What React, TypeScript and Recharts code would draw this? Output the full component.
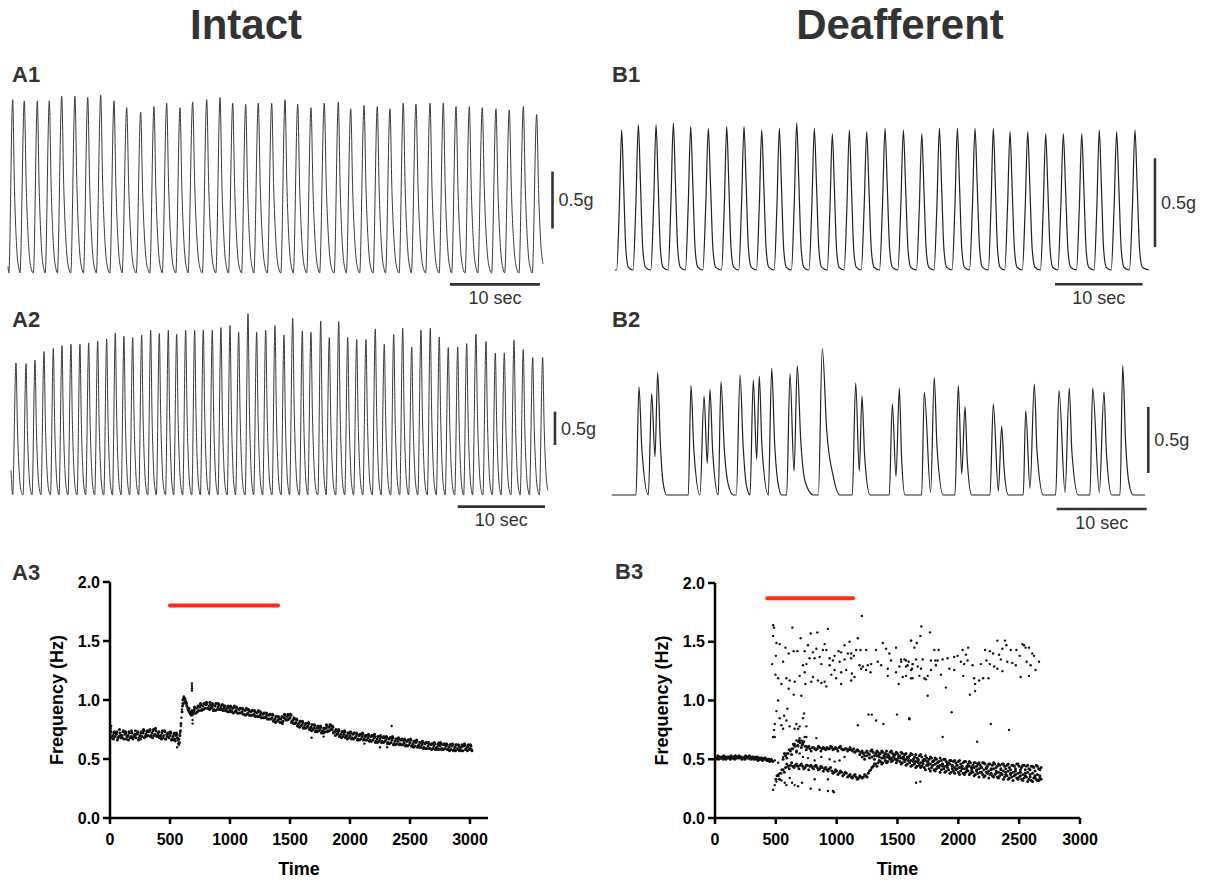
import { LineChart, Line, XAxis, YAxis, ReferenceLine, ScatterChart, Scatter } from 'recharts';

const FONT = '"Liberation Sans", Arial, Helvetica, sans-serif';
const INK = '#333333';
const RED = '#ff2e17';

// ---- force traces: time in s from trace start, force in g above the trough ----
const A1_PEAK_T = [0.52, 1.81, 3.26, 4.59, 5.97, 7.44, 8.86, 10.3, 11.78, 13.19, 14.74, 16.22, 17.63, 19.11, 20.52, 22.08, 23.56, 24.97, 26.41, 27.81, 29.3, 30.78, 32.19, 33.67, 35.14, 36.7, 38.08, 39.56, 41.03, 42.44, 43.92, 45.33, 46.89, 48.37, 49.78, 51.26, 52.7, 54.22, 55.7, 57.26, 58.74];
const A1_PEAK_F = [1.52, 1.51, 1.51, 1.51, 1.55, 1.55, 1.54, 1.56, 1.51, 1.45, 1.41, 1.46, 1.49, 1.45, 1.5, 1.52, 1.54, 1.49, 1.48, 1.49, 1.49, 1.52, 1.48, 1.45, 1.49, 1.5, 1.44, 1.47, 1.46, 1.44, 1.49, 1.48, 1.49, 1.49, 1.46, 1.46, 1.45, 1.44, 1.43, 1.46, 1.39];

const A2_PEAK_T = [0.57, 1.72, 2.75, 3.78, 4.85, 5.84, 6.87, 7.9, 8.9, 9.93, 10.96, 11.95, 12.94, 13.94, 14.97, 16.0, 16.99, 18.02, 18.98, 20.01, 21.04, 22.03, 23.06, 24.05, 25.09, 26.08, 27.15, 28.14, 29.18, 30.24, 31.27, 32.27, 33.37, 34.36, 35.48, 36.46, 37.54, 38.57, 39.6, 40.66, 41.73, 42.76, 43.84, 44.87, 45.9, 46.96, 48.03, 49.06, 50.09, 51.17, 52.2, 53.26, 54.41, 55.48, 56.51, 57.62, 58.68, 59.76, 60.9];
const A2_PEAK_F = [1.98, 1.97, 2.02, 2.15, 2.2, 2.24, 2.26, 2.26, 2.28, 2.31, 2.34, 2.43, 2.38, 2.36, 2.4, 2.47, 2.42, 2.47, 2.41, 2.47, 2.47, 2.47, 2.47, 2.51, 2.54, 2.44, 2.72, 2.44, 2.47, 2.54, 2.4, 2.65, 2.46, 2.44, 2.61, 2.36, 2.6, 2.36, 2.33, 2.33, 2.49, 2.26, 2.41, 2.5, 2.22, 2.47, 2.5, 2.37, 2.21, 2.22, 2.27, 2.41, 2.3, 2.13, 2.13, 2.32, 2.18, 2.06, 2.06];

const B1_PEAK_T = [0.76, 2.66, 4.68, 6.65, 8.63, 10.64, 12.74, 14.71, 16.73, 18.74, 20.72, 22.73, 24.78, 26.72, 28.7, 30.79, 32.88, 34.98, 36.99, 39.04, 41.05, 43.14, 45.04, 47.06, 49.11, 51.12, 53.22, 55.22, 57.2, 59.29];
const B1_PEAK_F = [0.79, 0.82, 0.82, 0.83, 0.81, 0.8, 0.81, 0.81, 0.79, 0.8, 0.83, 0.8, 0.77, 0.79, 0.78, 0.8, 0.79, 0.77, 0.8, 0.8, 0.8, 0.8, 0.78, 0.78, 0.77, 0.77, 0.77, 0.79, 0.78, 0.79];

// B2 is irregular, so its turning points are listed one by one: [s, g]
const B2_TRACE = [
  [0, 0], [2.7, 0], [3.03, 0.82], [3.35, 0.35], [4.07, 0], [4.44, 0.77], [4.81, 0.29], [5.11, 0.93], [5.4, 0.4], [5.7, 0.1], [6.11, 0],
  [8.51, 0], [8.81, 0.83], [9.12, 0.35], [9.81, 0], [10.26, 0.75], [10.62, 0.24], [10.92, 0.8], [11.22, 0.33], [11.84, 0],
  [12.14, 0.86], [12.5, 0.36], [12.95, 0.08], [13.51, 0], [13.85, 0],
  [14.26, 0.91], [14.6, 0.38], [14.95, 0.08], [15.37, 0], [15.73, 0.87], [16.11, 0.27], [16.4, 0.9], [16.7, 0.36], [17.4, 0],
  [17.78, 0.96], [18.1, 0.4], [18.5, 0.08], [18.89, 0], [19.44, 0],
  [19.81, 0.92], [20.26, 0.18], [20.62, 0.98], [21.0, 0.42], [21.5, 0.1], [22.4, 0], [22.96, 0],
  [23.4, 1.11], [23.89, 0.49], [24.62, 0.14], [25.37, 0],
  [26.73, 0], [27.11, 0.85], [27.51, 0.18], [27.81, 0.75], [28.1, 0.3], [28.7, 0],
  [30.84, 0], [31.18, 0.69], [31.59, 0.14], [31.96, 0.81], [32.2, 0.3], [32.59, 0],
  [34.44, 0], [34.73, 0.78], [35.44, 0.02], [35.84, 0.89], [36.15, 0.36], [36.84, 0],
  [38.14, 0], [38.51, 0.83], [38.89, 0.16], [39.26, 0.67], [39.5, 0.27], [40, 0],
  [42.03, 0], [42.4, 0.69], [42.96, 0.03], [43.33, 0.52], [43.6, 0.2], [44.07, 0],
  [45.73, 0], [46, 0.64], [46.48, 0.05], [46.96, 0.84], [47.25, 0.34], [47.96, 0],
  [49.33, 0], [49.7, 0.79], [50.37, 0.02], [50.84, 0.81], [51.13, 0.33], [51.84, 0],
  [53.14, 0], [53.44, 0.81], [54.18, 0.02], [54.7, 0.78], [54.97, 0.32], [55.56, 0],
  [56.48, 0], [56.78, 0.98], [57.1, 0.4], [57.5, 0.08], [57.96, 0], [59.26, 0],
];

// one contraction: [fraction of period, fraction of peak]
const INTACT_CYCLE = [[-0.33, 0], [0, 1], [0.15, 0.5], [0.35, 0.14], [0.55, 0.02]];
const DEAFF_CYCLE = [[-0.3, 0], [-0.14, 0.45], [0, 1], [0.12, 0.6], [0.25, 0.15], [0.4, 0.02]];

// ---- frequency plots ----
const X_TICKS = [0, 500, 1000, 1500, 2000, 2500, 3000];
const Y_TICKS = [0, 0.5, 1, 1.5, 2];

// A3: five rows of the dense band, 25 s apart, rows shifted by 4 s
const A3_ROW_A = [
  0.71, 0.7, 0.72, 0.69, 0.7, 0.71, 0.7, 0.69, 0.7, 0.71, 0.7, 0.72, 0.71, 0.73, 0.72, 0.71, 0.72, 0.7, 0.7, 0.71,
  0.7, 0.69, 0.7, 0.67, 0.9, 1.01, 0.93, 0.89, 0.91, 0.93, 0.94, 0.95, 0.96, 0.95, 0.94, 0.95, 0.94, 0.94, 0.93, 0.93,
  0.92, 0.93, 0.91, 0.92, 0.9, 0.91, 0.89, 0.9, 0.88, 0.89, 0.87, 0.88, 0.86, 0.87, 0.85, 0.84, 0.83, 0.84, 0.85, 0.86,
  0.85, 0.83, 0.81, 0.8, 0.79, 0.79, 0.78, 0.77, 0.76, 0.76, 0.75, 0.74, 0.76, 0.77, 0.75, 0.73, 0.72, 0.71, 0.71, 0.7,
  0.7, 0.71, 0.69, 0.7, 0.69, 0.69, 0.68, 0.69, 0.68, 0.67, 0.67, 0.68, 0.66, 0.67, 0.66, 0.65, 0.65, 0.66, 0.64, 0.65,
  0.64, 0.63, 0.64, 0.62, 0.62, 0.63, 0.61, 0.62, 0.61, 0.6, 0.61, 0.62, 0.61, 0.6, 0.61, 0.6, 0.59, 0.6, 0.61, 0.6,
  0.59,
];
const A3_ROW_D = [
  0.74, 0.67, 0.71, 0.75, 0.68, 0.73, 0.66, 0.74, 0.69, 0.72, 0.67, 0.75, 0.69, 0.74, 0.68, 0.76, 0.7, 0.67, 0.74, 0.69,
  0.73, 0.66, 0.72, 0.64, 0.95, 0.99, 0.91, 0.87, 0.94, 0.9, 0.97, 0.92, 0.98, 0.92, 0.97, 0.91, 0.97, 0.92, 0.95, 0.9,
  0.95, 0.89, 0.94, 0.89, 0.93, 0.87, 0.92, 0.87, 0.91, 0.86, 0.9, 0.85, 0.89, 0.84, 0.88, 0.81, 0.86, 0.81, 0.88, 0.83,
  0.88, 0.8, 0.84, 0.77, 0.82, 0.76, 0.81, 0.74, 0.79, 0.73, 0.78, 0.72, 0.79, 0.74, 0.78, 0.7, 0.75, 0.68, 0.74, 0.67,
  0.73, 0.67, 0.72, 0.66, 0.72, 0.66, 0.71, 0.65, 0.71, 0.64, 0.7, 0.64, 0.69, 0.63, 0.69, 0.62, 0.68, 0.62, 0.67, 0.61,
  0.67, 0.6, 0.66, 0.6, 0.65, 0.59, 0.64, 0.58, 0.64, 0.58, 0.64, 0.58, 0.63, 0.57, 0.63, 0.57, 0.62, 0.57, 0.63, 0.57,
  0.62,
];
const A3_ROW_B = [
  0.73, 0.72, 0.73, 0.72, 0.73, 0.72, 0.73, 0.72, 0.71, 0.73, 0.72, 0.74, 0.73, 0.75, 0.74, 0.74, 0.73, 0.72, 0.73, 0.72,
  0.72, 0.71, 0.71, 0.7, 1.0, 0.98, 0.93, 0.91, 0.93, 0.95, 0.96, 0.97, 0.97, 0.98, 0.96, 0.97, 0.96, 0.96, 0.95, 0.95,
  0.94, 0.94, 0.93, 0.93, 0.92, 0.92, 0.91, 0.91, 0.9, 0.9, 0.89, 0.89, 0.88, 0.88, 0.87, 0.86, 0.85, 0.86, 0.87, 0.88,
  0.87, 0.85, 0.83, 0.82, 0.81, 0.8, 0.8, 0.79, 0.78, 0.78, 0.77, 0.76, 0.78, 0.79, 0.77, 0.75, 0.74, 0.73, 0.73, 0.72,
  0.72, 0.72, 0.71, 0.71, 0.71, 0.7, 0.7, 0.7, 0.69, 0.69, 0.69, 0.69, 0.68, 0.68, 0.68, 0.67, 0.67, 0.67, 0.66, 0.66,
  0.66, 0.65, 0.65, 0.64, 0.64, 0.64, 0.63, 0.63, 0.63, 0.62, 0.63, 0.63, 0.62, 0.62, 0.62, 0.62, 0.61, 0.62, 0.62, 0.61,
  0.61,
];
const A3_ROW_E = [
  0.68, 0.73, 0.66, 0.7, 0.74, 0.67, 0.72, 0.68, 0.74, 0.66, 0.73, 0.68, 0.74, 0.69, 0.75, 0.7, 0.68, 0.74, 0.67, 0.72,
  0.66, 0.72, 0.68, 0.74, 0.97, 0.97, 0.9, 0.9, 0.89, 0.95, 0.91, 0.97, 0.93, 0.96, 0.91, 0.97, 0.92, 0.96, 0.91, 0.94,
  0.9, 0.95, 0.89, 0.93, 0.88, 0.93, 0.87, 0.91, 0.86, 0.91, 0.85, 0.89, 0.84, 0.88, 0.82, 0.86, 0.84, 0.8, 0.84, 0.87,
  0.81, 0.84, 0.78, 0.82, 0.76, 0.8, 0.75, 0.79, 0.73, 0.77, 0.72, 0.76, 0.73, 0.79, 0.72, 0.74, 0.69, 0.73, 0.68, 0.72,
  0.67, 0.72, 0.66, 0.71, 0.66, 0.7, 0.65, 0.7, 0.64, 0.69, 0.64, 0.68, 0.63, 0.68, 0.62, 0.67, 0.62, 0.66, 0.61, 0.66,
  0.61, 0.65, 0.6, 0.64, 0.59, 0.64, 0.59, 0.63, 0.58, 0.63, 0.58, 0.62, 0.58, 0.62, 0.57, 0.62, 0.57, 0.61, 0.58, 0.62,
  0.58,
];
const A3_ROW_C = [
  0.68, 0.69, 0.68, 0.68, 0.67, 0.69, 0.68, 0.67, 0.68, 0.68, 0.69, 0.69, 0.7, 0.7, 0.7, 0.69, 0.69, 0.68, 0.67, 0.68,
  0.67, 0.67, 0.66, 0.8, 1.02, 0.95, 0.89, 0.88, 0.89, 0.91, 0.92, 0.93, 0.93, 0.93, 0.92, 0.92, 0.92, 0.91, 0.91, 0.9,
  0.9, 0.9, 0.89, 0.89, 0.88, 0.88, 0.87, 0.87, 0.86, 0.86, 0.85, 0.85, 0.84, 0.84, 0.83, 0.82, 0.81, 0.82, 0.83, 0.84,
  0.82, 0.8, 0.79, 0.78, 0.77, 0.77, 0.76, 0.75, 0.74, 0.74, 0.73, 0.73, 0.74, 0.75, 0.73, 0.71, 0.7, 0.69, 0.69, 0.68,
  0.68, 0.68, 0.67, 0.67, 0.67, 0.66, 0.66, 0.66, 0.65, 0.65, 0.65, 0.65, 0.64, 0.64, 0.63, 0.63, 0.63, 0.62, 0.62, 0.62,
  0.61, 0.61, 0.61, 0.6, 0.6, 0.59, 0.59, 0.59, 0.59, 0.58, 0.59, 0.59, 0.58, 0.58, 0.58, 0.58, 0.58, 0.57, 0.58, 0.58,
  0.57,
];
// A3: the jump at stimulation and stray points, [s, Hz]
const A3_EXTRA = [
  [585, 0.72], [590, 0.78], [595, 0.85], [600, 0.92], [605, 0.97], [610, 1.01], [615, 1.03], [620, 1.02], [630, 0.98], [640, 0.95],
  [650, 0.92], [660, 0.9], [670, 0.88], [680, 0.88], [690, 0.9], [700, 0.91], [683, 1.14], [683, 1.12], [683, 1.1], [683, 1.08],
  [688, 0.8], [688, 0.83], [575, 0.62], [568, 0.63], [560, 0.6], [2347, 0.78], [1780, 0.69], [2250, 0.6], [2310, 0.6], [1840, 0.78],
  [1680, 0.68], [2120, 0.63], [2740, 0.64], [1015, 0.91], [545, 0.65], [5, 0.76], [10, 0.78],
];

// B3: before stimulation, two rows 12 s apart
const B3_PRE_A = [0.52, 0.51, 0.53, 0.52, 0.51, 0.52, 0.53, 0.52, 0.51, 0.52, 0.52, 0.53, 0.51, 0.52, 0.53, 0.52, 0.51, 0.52, 0.52, 0.51, 0.52, 0.53, 0.52, 0.51, 0.52, 0.51, 0.52, 0.51, 0.5, 0.52, 0.51, 0.5, 0.51, 0.5, 0.51, 0.5, 0.49, 0.5, 0.49, 0.49];
const B3_PRE_B = [0.5, 0.51, 0.5, 0.51, 0.52, 0.5, 0.51, 0.5, 0.52, 0.51, 0.5, 0.51, 0.52, 0.5, 0.51, 0.52, 0.53, 0.51, 0.5, 0.51, 0.5, 0.52, 0.51, 0.53, 0.5, 0.52, 0.5, 0.52, 0.51, 0.49, 0.5, 0.51, 0.49, 0.5, 0.51, 0.49, 0.5, 0.48, 0.5, 0.48];
// B3: the two slow bands after stimulation (20 s apart) and the spread between them
const B3_BAND_UP = [
  0.5, 0.53, 0.55, 0.57, 0.59, 0.61, 0.62, 0.64, 0.63, 0.61, 0.6, 0.59, 0.6, 0.59, 0.59, 0.6, 0.59, 0.59, 0.6, 0.59,
  0.6, 0.59, 0.59, 0.6, 0.59, 0.58, 0.59, 0.58, 0.58, 0.59, 0.57, 0.57, 0.56, 0.55, 0.56, 0.55, 0.57, 0.56, 0.55, 0.56,
  0.55, 0.56, 0.55, 0.54, 0.56, 0.55, 0.54, 0.55, 0.53, 0.55, 0.54, 0.52, 0.53, 0.54, 0.52, 0.51, 0.53, 0.52, 0.5, 0.51,
  0.5, 0.51, 0.49, 0.5, 0.48, 0.49, 0.5, 0.48, 0.47, 0.49, 0.48, 0.47, 0.48, 0.46, 0.47, 0.48, 0.46, 0.47, 0.45, 0.47,
  0.46, 0.45, 0.47, 0.46, 0.44, 0.46, 0.45, 0.46, 0.44, 0.45, 0.46, 0.44, 0.45, 0.43, 0.45, 0.44, 0.46, 0.44, 0.43, 0.45,
  0.44, 0.42, 0.44, 0.43, 0.45, 0.42, 0.43,
];
const B3_BAND_UP2 = [
  0.55, 0.51, 0.58, 0.54, 0.62, 0.57, 0.66, 0.6, 0.65, 0.58, 0.61, 0.57, 0.6, 0.58, 0.61, 0.57, 0.6, 0.58, 0.59, 0.61,
  0.58, 0.6, 0.57, 0.61, 0.58, 0.59, 0.57, 0.6, 0.57, 0.56, 0.58, 0.54, 0.57, 0.53, 0.57, 0.54, 0.58, 0.53, 0.57, 0.54,
  0.57, 0.53, 0.57, 0.52, 0.57, 0.53, 0.56, 0.52, 0.56, 0.52, 0.55, 0.51, 0.55, 0.5, 0.54, 0.5, 0.54, 0.49, 0.53, 0.48,
  0.52, 0.48, 0.51, 0.47, 0.51, 0.46, 0.5, 0.46, 0.49, 0.45, 0.49, 0.45, 0.49, 0.44, 0.48, 0.44, 0.48, 0.43, 0.47, 0.44,
  0.47, 0.43, 0.47, 0.43, 0.46, 0.42, 0.47, 0.43, 0.46, 0.42, 0.46, 0.42, 0.46, 0.41, 0.45, 0.42, 0.46, 0.41, 0.45, 0.41,
  0.45, 0.41, 0.44, 0.4, 0.44, 0.41,
];
const B3_BAND_LOW = [
  0.33, 0.36, 0.38, 0.41, 0.43, 0.44, 0.45, 0.44, 0.45, 0.44, 0.45, 0.44, 0.43, 0.45, 0.44, 0.43, 0.44, 0.43, 0.42, 0.43,
  0.42, 0.41, 0.42, 0.4, 0.39, 0.4, 0.38, 0.39, 0.37, 0.38, 0.36, 0.35, 0.36, 0.35, 0.34, 0.35, 0.35, 0.36, 0.38, 0.41,
  0.44, 0.46, 0.47, 0.48, 0.47, 0.49, 0.48, 0.5, 0.49, 0.5, 0.49, 0.48, 0.47, 0.48, 0.46, 0.47, 0.45, 0.46, 0.44, 0.45,
  0.44, 0.43, 0.45, 0.42, 0.43, 0.41, 0.42, 0.43, 0.41, 0.42, 0.4, 0.41, 0.39, 0.4, 0.41, 0.39, 0.4, 0.38, 0.39, 0.4,
  0.38, 0.39, 0.37, 0.38, 0.39, 0.37, 0.36, 0.38, 0.37, 0.36, 0.37, 0.35, 0.36, 0.37, 0.35, 0.36, 0.34, 0.35, 0.36, 0.34,
  0.35, 0.33, 0.34, 0.35, 0.33, 0.32, 0.34, 0.33, 0.32, 0.33,
];
const B3_BAND_LOW2 = [
  0.36, 0.33, 0.41, 0.39, 0.46, 0.42, 0.47, 0.43, 0.46, 0.42, 0.46, 0.42, 0.45, 0.41, 0.45, 0.42, 0.45, 0.41, 0.44, 0.4,
  0.43, 0.4, 0.43, 0.38, 0.41, 0.37, 0.4, 0.36, 0.39, 0.35, 0.37, 0.34, 0.37, 0.33, 0.36, 0.34, 0.37, 0.35, 0.4, 0.43,
  0.46, 0.44, 0.49, 0.46, 0.51, 0.47, 0.51, 0.48, 0.52, 0.47, 0.51, 0.46, 0.5, 0.45, 0.49, 0.44, 0.48, 0.43, 0.47, 0.43,
  0.46, 0.41, 0.45, 0.4, 0.45, 0.4, 0.44, 0.39, 0.44, 0.39, 0.43, 0.38, 0.42, 0.38, 0.42, 0.37, 0.42, 0.37, 0.41, 0.37,
  0.4, 0.36, 0.4, 0.35, 0.39, 0.35, 0.39, 0.34, 0.38, 0.35, 0.38, 0.34, 0.38, 0.33, 0.37, 0.33, 0.37, 0.32, 0.37, 0.33,
  0.36, 0.32, 0.36, 0.31, 0.35, 0.31, 0.35, 0.32, 0.34,
];
const B3_BAND_MID = [
  0.52, 0.5, 0.53, 0.51, 0.52, 0.5, 0.53, 0.52, 0.51, 0.53, 0.52, 0.53, 0.51, 0.52, 0.5, 0.53, 0.51, 0.52, 0.5, 0.51,
  0.49, 0.5, 0.48, 0.49, 0.47, 0.48, 0.49, 0.47, 0.46, 0.48, 0.46, 0.47, 0.45, 0.46, 0.44, 0.45, 0.46, 0.44, 0.43, 0.45,
  0.43, 0.44, 0.42, 0.43, 0.44, 0.42, 0.43, 0.41, 0.42, 0.43, 0.41, 0.42, 0.4, 0.41, 0.42, 0.4, 0.39, 0.41, 0.4, 0.39,
  0.4, 0.38, 0.39, 0.4, 0.38, 0.39, 0.37, 0.38, 0.39, 0.37, 0.38, 0.36, 0.37, 0.36,
];
// B3: the scattered fast / doubled cycles, [s, Hz]
const B3_SCATTER = [
  [1207, 1.72], [478, 1.64], [486, 1.62], [636, 1.62], [928, 1.61], [478, 1.55], [841, 1.58], [786, 1.57], [704, 1.53], [1174, 1.53],
  [505, 1.49], [532, 1.48], [764, 1.47], [901, 1.48], [833, 1.44], [887, 1.43], [1106, 1.5], [1065, 1.47], [579, 1.45], [647, 1.42],
  [677, 1.42], [737, 1.42], [805, 1.41], [915, 1.43], [606, 1.4], [500, 1.38], [1016, 1.42], [1037, 1.41], [1092, 1.4], [1119, 1.4],
  [1160, 1.43], [1196, 1.43], [1242, 1.43], [1324, 1.43], [1379, 1.49], [1406, 1.44], [1488, 1.45], [1611, 1.51], [1433, 1.4], [778, 1.36],
  [819, 1.36], [860, 1.37], [942, 1.36], [969, 1.34], [983, 1.38], [1024, 1.33], [1065, 1.35], [1119, 1.36], [1141, 1.38], [1188, 1.3],
  [1215, 1.29], [1256, 1.3], [1283, 1.31], [1338, 1.33], [1365, 1.3], [1447, 1.34], [1529, 1.35], [1570, 1.34], [1624, 1.31], [470, 1.31],
  [560, 1.33], [723, 1.3], [751, 1.31], [874, 1.31], [942, 1.3], [983, 1.26], [1037, 1.24], [1078, 1.26], [1125, 1.23], [1147, 1.2],
  [1201, 1.27], [1242, 1.26], [1278, 1.24], [1420, 1.27], [1488, 1.24], [1515, 1.29], [1583, 1.3], [1611, 1.26], [497, 1.22], [519, 1.19],
  [587, 1.19], [614, 1.17], [696, 1.21], [737, 1.24], [805, 1.2], [846, 1.17], [901, 1.16], [956, 1.22], [996, 1.19], [1037, 1.14],
  [1119, 1.17], [1420, 1.21], [1510, 1.14], [1570, 1.21], [1624, 1.19], [546, 1.14], [655, 1.16], [743, 1.14], [792, 1.16], [874, 1.15],
  [915, 1.12], [606, 1.1], [647, 1.05], [710, 1.04],
  [1696, 1.63], [1767, 1.58], [1688, 1.55], [1612, 1.51], [1658, 1.49], [1639, 1.45], [1803, 1.43], [1838, 1.43], [2035, 1.43], [2081, 1.45],
  [2220, 1.43], [2259, 1.42], [2286, 1.4], [2321, 1.51], [2384, 1.51], [2395, 1.47], [2362, 1.44], [2335, 1.39], [2431, 1.43], [2477, 1.43],
  [2526, 1.48], [2540, 1.47], [2553, 1.45], [2581, 1.45], [2608, 1.4], [2622, 1.38], [1557, 1.35], [1530, 1.33], [1592, 1.33], [1625, 1.31],
  [1653, 1.35], [1707, 1.35], [1775, 1.34], [1811, 1.34], [1830, 1.34], [1871, 1.35], [1912, 1.36], [1966, 1.37], [1994, 1.38], [2021, 1.33],
  [2062, 1.39], [2076, 1.34], [1571, 1.29], [1620, 1.27], [1666, 1.29], [1693, 1.27], [1775, 1.26], [1816, 1.3], [1857, 1.22], [1926, 1.27],
  [1966, 1.26], [2048, 1.31], [2117, 1.3], [2185, 1.31], [2231, 1.34], [2259, 1.31], [2294, 1.29], [2321, 1.27], [2349, 1.35], [2362, 1.25],
  [2403, 1.33], [2444, 1.32], [2472, 1.3], [2504, 1.38], [2562, 1.33], [2594, 1.3], [2635, 1.26], [2663, 1.33], [1543, 1.2], [1612, 1.19],
  [1680, 1.21], [1721, 1.19], [1734, 1.18], [1748, 1.21], [1898, 1.11], [2040, 1.21], [2130, 1.19], [2138, 1.14], [2171, 1.17], [2204, 1.19],
  [2248, 1.19], [2512, 1.2], [2581, 1.21], [2138, 1.08], [2095, 1.05], [1748, 1.04],
  [519, 1.0], [505, 0.91], [595, 0.93], [732, 0.89], [532, 0.85], [568, 0.87], [587, 0.83], [491, 0.8], [546, 0.79], [560, 0.76],
  [614, 0.78], [669, 0.8], [696, 0.78], [723, 0.85], [751, 0.78], [486, 0.75], [655, 0.76], [683, 0.76], [478, 0.69], [491, 0.69],
  [1174, 0.79], [1261, 0.88], [1289, 0.88], [1324, 0.83], [1384, 0.8], [1496, 0.88], [1597, 0.85],
  [1945, 0.9], [1598, 0.84], [2267, 0.8], [2417, 0.75], [1871, 0.69], [2155, 0.65],
  [478, 0.24], [491, 0.28], [505, 0.31], [519, 0.37], [532, 0.38], [546, 0.32], [573, 0.3], [587, 0.28], [614, 0.34], [633, 0.3],
  [655, 0.28], [683, 0.27], [715, 0.3], [786, 0.25], [819, 0.33], [860, 0.24], [928, 0.33], [928, 0.23], [977, 0.22], [969, 0.23],
  [491, 0.49], [519, 0.47], [560, 0.52], [587, 0.55], [628, 0.59], [655, 0.63], [683, 0.65], [710, 0.66], [737, 0.69], [751, 0.61],
  [669, 0.56], [696, 0.55], [723, 0.52], [764, 0.51], [819, 0.49], [874, 0.52], [942, 0.5], [983, 0.48], [1024, 0.49], [1065, 0.52],
  [833, 0.68], [642, 0.63], [669, 0.66], [696, 0.68], [723, 0.65], [751, 0.69], [683, 0.61], [715, 0.62], [1653, 0.3], [1688, 0.31],
];

const pairs = (list: number[][]) => list.map(([t, f]) => ({ t, f }));
const row = (start: number, step: number, values: number[]) => values.map((f, i) => ({ t: start + i * step, f }));

function buildTrace(peakT: number[], peakF: number[], cycle: number[][], start: number[], end: number[]) {
  const pts = [{ t: start[0], f: start[1] }];
  peakT.forEach((tp, i) => {
    const period = i < peakT.length - 1 ? peakT[i + 1] - tp : tp - peakT[i - 1];
    cycle.forEach(([phase, level]) => {
      const t = tp + phase * period;
      if (t > pts[pts.length - 1].t && t < end[0]) pts.push({ t, f: level * peakF[i] });
    });
  });
  pts.push({ t: end[0], f: end[1] });
  return pts;
}

const A1_DATA = buildTrace(A1_PEAK_T, A1_PEAK_F, INTACT_CYCLE, [0, 0.06], [59.44, 0.08]);
const A2_DATA = buildTrace(A2_PEAK_T, A2_PEAK_F, INTACT_CYCLE, [0, 0.37], [61.5, 0.07]);
const B1_DATA = buildTrace(B1_PEAK_T, B1_PEAK_F, DEAFF_CYCLE, [0, 0], [60.9, 0]);
const B2_DATA = pairs(B2_TRACE);

const scaleLabel = { fill: INK, fontSize: 18, fontFamily: FONT };

function TracePanel({ box, origin, scale, data, bar, stroke, strokeWidth }: any) {
  const [left, top, w, h] = box;
  const [x0, y0] = origin;
  const [pxPerSec, pxPerG] = scale;
  const xDomain = [(left - x0) / pxPerSec, (left + w - x0) / pxPerSec];
  const yDomain = [(y0 - top - h) / pxPerG, (y0 - top) / pxPerG];
  return (
    <div style={{ position: 'absolute', left, top }}>
      <LineChart width={w} height={h} data={data} margin={{ top: 0, right: 0, bottom: 0, left: 0 }}>
        <XAxis type="number" dataKey="t" domain={xDomain} hide allowDataOverflow />
        <YAxis type="number" domain={yDomain} hide allowDataOverflow />
        <Line type="monotone" dataKey="f" stroke={stroke} strokeWidth={strokeWidth} dot={false} activeDot={false} isAnimationActive={false} />
        <ReferenceLine
          segment={[{ x: bar.t0, y: bar.f }, { x: bar.t0 + 10, y: bar.f }]}
          stroke={INK}
          strokeWidth={2.6}
          label={{ value: '10 sec', position: 'bottom', offset: 7, ...scaleLabel }}
        />
        <ReferenceLine
          segment={[{ x: bar.vt, y: bar.vf }, { x: bar.vt, y: bar.vf + 0.5 }]}
          stroke={INK}
          strokeWidth={2.6}
          label={{ value: '0.5g', position: 'right', offset: 6, ...scaleLabel }}
        />
      </LineChart>
    </div>
  );
}

// dense bands use a slightly larger dot so they close up like the original
const bandDot = (props: any) => <circle cx={props.cx} cy={props.cy} r={1.5} fill="#111" />;
const looseDot = (props: any) => <circle cx={props.cx} cy={props.cy} r={1.2} fill="#111" />;

const tickStyle = { fill: '#000', fontSize: 16, fontWeight: 700, fontFamily: FONT };
const titleStyle = { fill: '#000', fontSize: 18, fontWeight: 700, fontFamily: FONT };
const axisStroke = { stroke: '#000', strokeWidth: 2.5 };

function FreqPanel({ left, margin, xMax, bands, loose, red }: any) {
  return (
    <div style={{ position: 'absolute', left, top: 560 }}>
      <ScatterChart width={500} height={322} margin={margin}>
        <XAxis
          type="number"
          dataKey="t"
          domain={[0, xMax]}
          ticks={X_TICKS}
          interval={0}
          allowDataOverflow
          height={58}
          axisLine={axisStroke}
          tickLine={axisStroke}
          tickSize={6}
          tickMargin={10}
          tick={tickStyle}
          label={{ value: 'Time', position: 'insideBottom', offset: 1, ...titleStyle }}
        />
        <YAxis
          type="number"
          dataKey="f"
          domain={[0, 2]}
          ticks={Y_TICKS}
          interval={0}
          allowDataOverflow
          width={60}
          axisLine={axisStroke}
          tickLine={axisStroke}
          tickSize={7}
          tickMargin={3}
          tick={tickStyle}
          tickFormatter={(v: number) => v.toFixed(1)}
          label={{ value: 'Frequency (Hz)', angle: -90, position: 'insideLeft', offset: 7, style: { textAnchor: 'middle' }, ...titleStyle }}
        />
        {bands.map((d: any, i: number) => (
          <Scatter key={'b' + i} data={d} shape={bandDot} isAnimationActive={false} />
        ))}
        <Scatter data={loose} shape={looseDot} isAnimationActive={false} />
        <ReferenceLine
          segment={[{ x: red[0], y: red[2] }, { x: red[1], y: red[2] }]}
          stroke={RED}
          strokeWidth={4}
          strokeLinecap="round"
        />
      </ScatterChart>
    </div>
  );
}

function Txt({ x, base, size, children, center = false }: any) {
  const style: any = {
    position: 'absolute',
    top: base - 0.8465 * size,
    lineHeight: 1,
    fontSize: size,
    fontWeight: 700,
    color: INK,
    fontFamily: FONT,
    whiteSpace: 'nowrap',
  };
  if (center) {
    style.left = x - 200;
    style.width = 400;
    style.textAlign = 'center';
  } else {
    style.left = x;
  }
  return <div style={style}>{children}</div>;
}

export default function App() {
  return (
    <div style={{ position: 'absolute', left: 0, top: 0, width: 1214, height: 882, background: '#fff', overflow: 'hidden' }}>
      <Txt x={246} base={40} size={42} center>Intact</Txt>
      <Txt x={900} base={40} size={42} center>Deafferent</Txt>
      <Txt x={12} base={83} size={22}>A1</Txt>
      <Txt x={612} base={83} size={22}>B1</Txt>
      <Txt x={12} base={328} size={22}>A2</Txt>
      <Txt x={612} base={328} size={22}>B2</Txt>
      <Txt x={12} base={581} size={22}>A3</Txt>
      <Txt x={615} base={580} size={22}>B3</Txt>

      <TracePanel box={[0, 70, 610, 240]} origin={[8, 273]} scale={[9, 114]} data={A1_DATA}
        bar={{ t0: 49.1, f: -0.1, vt: 60.5, vf: 0.39 }} stroke="#3a3a3a" strokeWidth={1} />
      <TracePanel box={[0, 300, 610, 240]} origin={[11, 495]} scale={[8.73, 66.7]} data={A2_DATA}
        bar={{ t0: 51.17, f: -0.175, vt: 62.31, vf: 0.75 }} stroke="#3a3a3a" strokeWidth={1} />
      <TracePanel box={[600, 100, 614, 210]} origin={[615, 270]} scale={[8.77, 177.3]} data={B1_DATA}
        bar={{ t0: 50.17, f: -0.08, vt: 61.57, vf: 0.13 }} stroke="#222" strokeWidth={1.2} />
      <TracePanel box={[600, 330, 614, 210]} origin={[611.7, 495]} scale={[9, 132]} data={B2_DATA}
        bar={{ t0: 49.44, f: -0.106, vt: 59.62, vf: 0.167 }} stroke="#222" strokeWidth={1.2} />

      <FreqPanel
        left={0}
        margin={{ top: 22, right: 12, bottom: 6, left: 50 }}
        xMax={3150}
        bands={[
          row(0, 25, A3_ROW_A),
          row(4, 25, A3_ROW_D),
          row(8, 25, A3_ROW_B),
          row(12, 25, A3_ROW_E),
          row(16, 25, A3_ROW_C),
        ]}
        loose={pairs(A3_EXTRA)}
        red={[500, 1400, 1.8]}
      />
      <FreqPanel
        left={600}
        margin={{ top: 23, right: 20, bottom: 6, left: 55 }}
        xMax={3000}
        bands={[
          row(0, 12, B3_PRE_A),
          row(6, 12, B3_PRE_B),
          row(560, 20, B3_BAND_UP),
          row(570, 20, B3_BAND_UP2),
          row(500, 20, B3_BAND_LOW),
          row(510, 20, B3_BAND_LOW2),
          row(1210, 20, B3_BAND_MID),
        ]}
        loose={pairs(B3_SCATTER)}
        red={[430, 1135, 1.87]}
      />
    </div>
  );
}
